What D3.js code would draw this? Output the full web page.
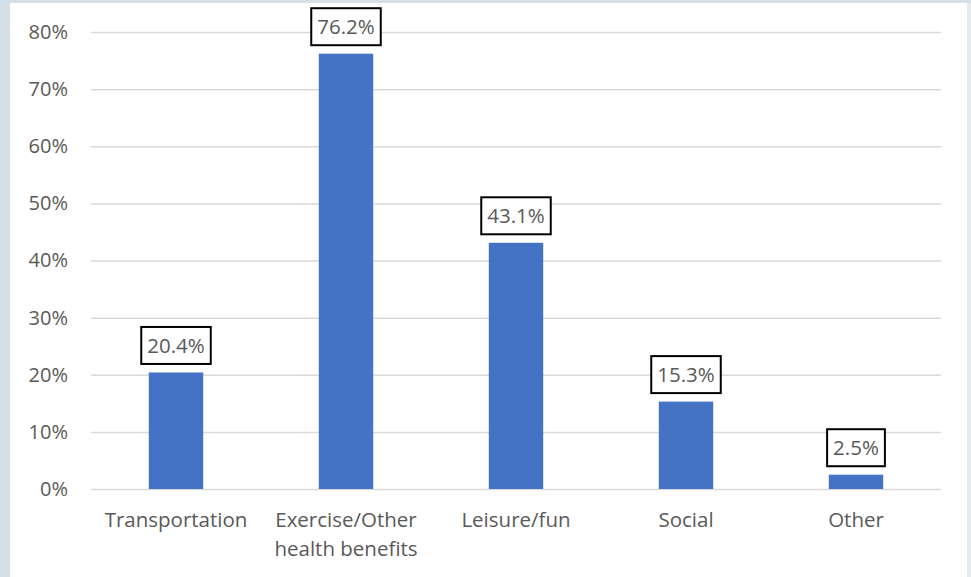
<!DOCTYPE html>
<html><head><meta charset="utf-8">
<script src="https://cdn.jsdelivr.net/npm/d3@7"></script>
<style>html,body{margin:0;padding:0;background:#d5dfe7;}svg{display:block;}</style>
</head><body>
<svg id="c" width="971" height="577"></svg>
<script>
const categories = ["Transportation", "Exercise/Other health benefits", "Leisure/fun", "Social", "Other"];
const categoryLines = [["Transportation"], ["Exercise/Other", "health benefits"], ["Leisure/fun"], ["Social"], ["Other"]];
const values = [20.4, 76.2, 43.1, 15.3, 2.5];
const valueLabels = ["20.4%", "76.2%", "43.1%", "15.3%", "2.5%"];
const yTicks = [0, 10, 20, 30, 40, 50, 60, 70, 80];

const svg = d3.select("#c");
const font = "'Open Sans', 'Noto Sans', sans-serif";
svg.append("rect").attr("x", 10).attr("y", 3).attr("width", 957).attr("height", 574).attr("fill", "#ffffff");
svg.append("rect").attr("x", 967).attr("y", 3).attr("width", 4).attr("height", 574).attr("fill", "#e6eaee");

const x = d3.scaleBand().domain(categories).range([91, 941]).paddingInner(0.68).paddingOuter(0.34);
const y = d3.scaleLinear().domain([0, 80]).range([489, 32]);

const yAxis = d3.axisLeft(y).tickValues(yTicks).tickFormat(d => d + "%").tickSize(-(941 - 91)).tickPadding(23);
const gy = svg.append("g").attr("transform", "translate(91,0)").call(yAxis);
gy.select(".domain").remove();
gy.selectAll(".tick line").attr("stroke", "#d9d9d9").attr("stroke-width", 1.5);
gy.selectAll(".tick text").attr("fill", "#595959").attr("font-size", 20).attr("font-family", font);

svg.append("g").selectAll("rect").data(values).join("rect")
  .attr("x", (d, i) => x(categories[i]))
  .attr("width", x.bandwidth())
  .attr("y", d => y(d))
  .attr("height", d => y(0) - y(d))
  .attr("fill", "#4472c4");

const lab = svg.append("g").selectAll("g").data(values).join("g")
  .attr("transform", (d, i) => `translate(${x(categories[i]) + x.bandwidth() / 2},${y(d) - 27})`);
lab.append("text").text((d, i) => valueLabels[i])
  .attr("text-anchor", "middle").attr("dy", "0.35em")
  .attr("fill", "#595959").attr("font-size", 20.5).attr("font-family", font);
lab.each(function() {
  const g = d3.select(this);
  const bb = g.select("text").node().getBBox();
  g.insert("rect", "text").attr("x", bb.x - 6).attr("y", -18.5).attr("width", bb.width + 12).attr("height", 37)
    .attr("fill", "#ffffff").attr("stroke", "#000000").attr("stroke-width", 2);
});

const cl = svg.append("g").selectAll("text").data(categoryLines).join("text")
  .attr("x", (d, i) => x(categories[i]) + x.bandwidth() / 2)
  .attr("y", 527).attr("text-anchor", "middle")
  .attr("fill", "#595959").attr("font-size", 20.5).attr("font-family", font);
cl.selectAll("tspan").data(d => d).join("tspan")
  .attr("x", function() { return d3.select(this.parentNode).attr("x"); })
  .attr("dy", (d, j) => j === 0 ? 0 : 29).text(d => d);
</script>
</body></html>
